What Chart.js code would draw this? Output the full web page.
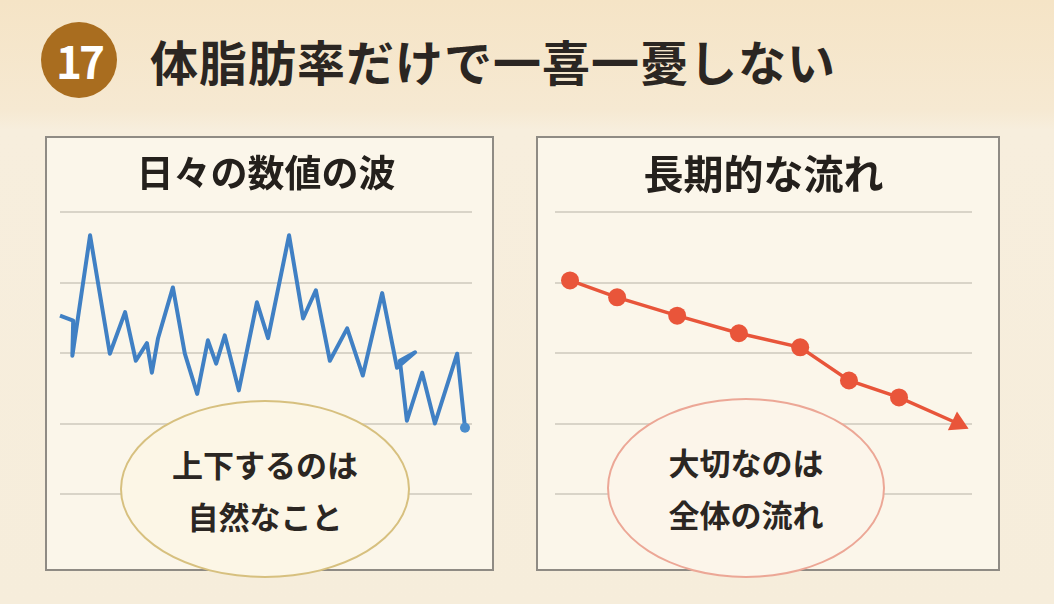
<!DOCTYPE html>
<html lang="ja">
<head>
<meta charset="utf-8">
<script src="https://cdn.jsdelivr.net/npm/chart.js@4/dist/chart.umd.min.js"></script>
<style>
  html, body { margin: 0; padding: 0; }
  body {
    width: 1054px; height: 604px; position: relative; overflow: hidden;
    background: linear-gradient(180deg, #f5e4c6 0px, #f6e9d2 110px, #f7eedd 130px, #f6eddb 604px);
    font-family: "Noto Sans CJK JP", "Noto Sans", sans-serif;
  }
  .badge {
    position: absolute; left: 41px; top: 22px; width: 76px; height: 76px;
    border-radius: 50%; background: #a96d1f; color: #fff;
    font-weight: bold; font-size: 44px; line-height: 76px; text-align: center;
    letter-spacing: -3px;
  }
  .heading {
    position: absolute; left: 150px; top: 28px; font-size: 48px; font-weight: bold;
    color: #2b2622; line-height: 64px; letter-spacing: 1px;
  }
  .panel {
    position: absolute; top: 136px; height: 435px; box-sizing: border-box;
    border: 2px solid #8f8b84; background: #fbf6ea;
  }
  .panel canvas { display: block; }
  .bubble {
    position: absolute; box-sizing: border-box; border-radius: 50%;
    background: #fcf6e6; text-align: center; font-weight: bold; font-size: 31px;
    color: #2b2622; line-height: 52px; padding-top: 36px;
  }
</style>
</head>
<body>
<div class="badge">17</div>
<div class="heading">体脂肪率だけで一喜一憂しない</div>

<div class="panel" style="left:45px;width:449px;"><canvas id="waveChart"></canvas></div>
<div class="panel" style="left:536px;width:464px;"><canvas id="trendChart"></canvas></div>

<div class="bubble" style="left:120px;top:400px;width:290px;height:178px;border:2px solid #d7c07f;">上下するのは<br>自然なこと</div>
<div class="bubble" style="left:607px;top:398px;width:278px;height:180px;border:2px solid #eca796;background:#fcf5ea;">大切なのは<br>全体の流れ</div>

<script>
// 日々の数値 (x: 日, y: 体脂肪率%)
const dailyDays = [0, 3.2, 3.0, 7.3, 12.1, 15.8, 18.4, 21.1, 22.3, 23.8, 27.4, 30.3, 33.3, 35.9, 37.9, 40.0,
  43.4, 47.8, 50.5, 55.6, 59.0, 62.1, 65.5, 69.7, 73.5, 78.2, 81.8, 86.2, 82.5, 84.2, 87.9, 91.0, 96.4, 98.3];
const dailyValues = [28.53, 28.46, 27.96, 29.67, 27.99, 28.58, 27.89, 28.14, 27.72, 28.21, 28.93, 27.99, 27.42, 28.18, 27.85, 28.25,
  27.47, 28.72, 28.21, 29.67, 28.49, 28.89, 27.89, 28.35, 27.68, 28.85, 27.79, 28.01, 27.89, 27.04, 27.72, 27.00, 27.99, 26.94];

// 長期的な流れ
const trendDays = [3.6, 14.9, 29.3, 44.1, 58.8, 70.5, 82.5, 96.6];
const trendValues = [29.03, 28.79, 28.53, 28.28, 28.08, 27.61, 27.37, 27.0];

// 目盛り
const yMin = 26;
const yMax = 30;

function toPoints(xs, ys) {
  return xs.map((x, i) => ({ x: x, y: ys[i] }));
}

function makeOptions(title, size, pad) {
  const block = 74; // タイトル部分の高さ
  const textH = size * 1.2;
  const top = Math.round((block - textH) * 0.45);
  return {
    responsive: true,
    maintainAspectRatio: false,
    animation: false,
    layout: { padding: pad },
    plugins: {
      legend: { display: false },
      tooltip: { enabled: false },
      title: {
        display: true,
        text: title,
        color: "#24201c",
        font: { family: "Noto Sans CJK JP", size: size, weight: "bold", lineHeight: 1.2 },
        padding: { top: top, bottom: block - textH - top },
      },
    },
    scales: {
      x: { type: "linear", min: 0, max: 100, display: false },
      y: {
        min: yMin,
        max: yMax,
        ticks: { display: false, stepSize: 1 },
        border: { display: false },
        grid: { color: "#d9d4c8", lineWidth: 2, drawTicks: false },
      },
    },
  };
}

const lastDaily = dailyValues.length - 1;
new Chart(document.getElementById("waveChart").getContext("2d"), {
  type: "line",
  data: {
    datasets: [{
      data: toPoints(dailyDays, dailyValues),
      borderColor: "#4080c4",
      backgroundColor: "#4a8ccc",
      borderWidth: 4,
      borderJoinStyle: "round",
      pointRadius: dailyValues.map((v, i) => (i === lastDaily ? 5 : 0)),
      pointBorderWidth: 0,
      clip: false,
    }],
  },
  options: makeOptions("日々の数値の波", 37, { left: 13, right: 20, bottom: 75 }),
});

const lastTrend = trendValues.length - 1;
new Chart(document.getElementById("trendChart").getContext("2d"), {
  type: "line",
  data: {
    datasets: [{
      data: toPoints(trendDays, trendValues),
      borderColor: "#e8553a",
      backgroundColor: "#e9553a",
      borderWidth: 3.5,
      pointRadius: trendValues.map((v, i) => (i === lastTrend ? 12 : 9)),
      pointStyle: trendValues.map((v, i) => (i === lastTrend ? "triangle" : "circle")),
      rotation: trendValues.map((v, i) => (i === lastTrend ? 116 : 0)),
      pointBorderWidth: 0,
      clip: false,
    }],
  },
  options: makeOptions("長期的な流れ", 40, { left: 17, right: 26, bottom: 75 }),
});
</script>
</body>
</html>
